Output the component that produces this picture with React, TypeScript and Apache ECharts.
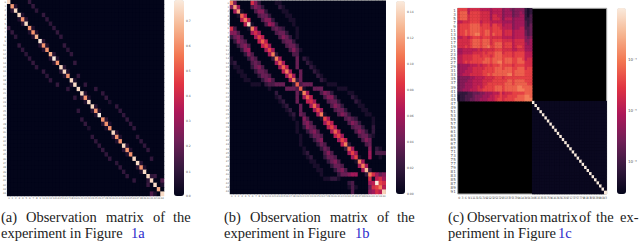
import React, { useEffect, useRef } from "react";
import * as echarts from "echarts";

const SIZE_AB = 45;
const BLOCK_C = 30;
const SIZE_C = 60;
const ROCKET = ["#03051a", "#35193e", "#701f57", "#ad1759", "#e13342", "#f37651", "#f6b48f", "#faebdd"];

const aDiagonal = [
  0.95, 0.8, 0.95, 0.95, 0.78, 0.96, 0.78, 0.78, 0.86, 0.98, 0.78, 0.78, 0.84, 1, 0.78,
  0.95, 0.95, 0.78, 0.95, 0.96, 0.95, 0.95, 0.78, 0.96, 0.95, 0.78, 1, 0.78, 0.78, 0.78,
  0.95, 0.78, 0.78, 0.95, 0.78, 0.78, 0.95, 0.96, 0.78, 0.96, 0.95, 0.95, 0.96, 0.84, 0.96,
];
// [row, column, value], upper triangle; the picture is symmetric
const aBands: number[][] = [
  [0, 6, 0.14], [1, 7, 0.14], [2, 8, 0.12], [3, 10, 0.14], [4, 11, 0.13], [5, 12, 0.12], [6, 13, 0.13], [7, 14, 0.14],
  [8, 15, 0.13], [10, 16, 0.14], [11, 17, 0.12], [12, 18, 0.13], [14, 19, 0.14], [17, 20, 0.13], [19, 22, 0.13],
  [20, 25, 0.13], [21, 27, 0.13], [22, 28, 0.14], [23, 29, 0.08], [24, 31, 0.13], [25, 32, 0.13], [26, 33, 0.13], [27, 34, 0.14],
  [28, 35, 0.13], [29, 36, 0.13], [31, 37, 0.12], [32, 38, 0.13], [33, 39, 0.13], [34, 40, 0.13], [36, 41, 0.13],
  [40, 42, 0.15], [41, 44, 0.2], [42, 44, 0.08], [1, 2, 0.1], [3, 4, 0.08], [4, 5, 0.1], [6, 7, 0.08], [7, 8, 0.08],
  [9, 10, 0.1], [10, 11, 0.08], [12, 13, 0.1], [13, 14, 0.08], [15, 16, 0.1], [16, 17, 0.08], [18, 19, 0.07], [21, 22, 0.1],
  [22, 23, 0.08], [24, 25, 0.1], [25, 26, 0.08], [27, 28, 0.1], [28, 29, 0.08], [30, 31, 0.1], [31, 32, 0.08], [33, 34, 0.1],
  [34, 35, 0.08], [37, 38, 0.1], [38, 39, 0.08], [40, 41, 0.12],
];

// [row, start column, levels 0-f along the row], upper triangle; the picture is symmetric
const bRuns: [number, number, string][] = [
  [0, 0, "b5"], [1, 1, "c6"], [2, 2, "c1"], [3, 3, "a7"], [4, 4, "b7"], [5, 5, "e1"],
  [6, 6, "b6"], [7, 7, "86"], [8, 8, "97"], [9, 9, "a7"], [10, 10, "96"], [11, 11, "96"], [12, 12, "b2"],
  [13, 13, "b6"], [14, 14, "a6"], [15, 15, "a7"], [16, 16, "b6"], [17, 17, "a6"], [18, 18, "b2"], [19, 19, "a3"], [20, 20, "a1"],
  [21, 21, "b6"], [22, 22, "a7"], [23, 23, "86"], [24, 24, "a6"], [25, 25, "96"], [26, 26, "b1"],
  [27, 27, "96"], [28, 28, "97"], [29, 29, "96"], [30, 30, "a7"], [31, 31, "96"], [32, 32, "97"], [33, 33, "b2"],
  [34, 34, "a6"], [35, 35, "96"], [36, 36, "91"], [37, 37, "b6"], [38, 38, "b6"], [39, 39, "d2"],
  [40, 40, "b8645"], [41, 41, "1786"], [42, 42, "f98"], [43, 43, "b7"], [44, 44, "e"],
  [0, 6, "852"], [1, 6, "3542"], [2, 7, "3552"], [3, 8, "3442"], [4, 9, "3552"], [5, 10, "3652"],
  [6, 12, "3432"], [7, 13, "3442"], [8, 14, "3542"], [9, 15, "3442"], [10, 16, "3442"], [11, 17, "353"], [12, 18, "33"],
  [0, 13, "11"], [1, 14, "21"], [2, 15, "11"], [3, 16, "11"], [4, 17, "11"], [5, 18, "1"], [6, 19, "1"], [7, 19, "1"], [8, 19, "1"],
  [11, 20, "1"],
  [13, 19, "4"], [14, 19, "4"], [15, 19, "4"], [16, 20, "4"], [17, 20, "4"], [18, 20, "4"],
  [19, 21, "444"], [20, 24, "444"], [19, 28, "111"], [20, 31, "111"],
  [13, 21, "21"], [14, 22, "21"], [15, 23, "21"], [16, 24, "21"], [17, 25, "21"], [18, 26, "21"],
  [21, 26, "3542"], [22, 27, "3552"], [23, 28, "3442"], [24, 29, "3542"], [25, 30, "3442"], [26, 31, "3542"],
  [21, 34, "11"], [22, 35, "21"], [23, 36, "21"], [24, 37, "11"], [25, 38, "11"], [26, 39, "11"],
  [27, 41, "1"], [28, 41, "1"], [29, 41, "2"], [30, 41, "2"], [31, 41, "1"],
  [27, 33, "3432"], [28, 34, "3542"], [29, 35, "3442"], [30, 36, "3542"], [31, 37, "3442"], [32, 38, "354"], [33, 39, "34"],
  [34, 40, "5"], [35, 40, "6"], [36, 40, "6"], [34, 42, "21"], [35, 42, "333"], [36, 43, "1"],
];

// levels 0-f, top-left block of panel c, one string per row
const cBlockRows = [
  "9999 78888 7777 67777 5665 45555 212",
  "9aaa 79999 8888 67777 5666 45565 212",
  "9aaa 89999 8888 68877 5666 45566 213",
  "9aaa 89999 8888 68887 5777 56666 223",
  "7788 89999 7888 77777 6666 56666 323",
  "8999 9aaaa 8999 79988 6777 56666 324",
  "8999 9aaaa 9999 89998 7777 56677 334",
  "899a 9aaaa 99aa 89999 7888 67777 434",
  "899a 9aabb 99aa 8a999 7888 67777 434",
  "7788 78999 8999 88888 7777 67777 545",
  "8888 89aaa 9aaa 89999 8888 78888 556",
  "8888 89aaa 9aaa 89aaa 8999 78888 656",
  "8889 89aaa 9aab 99aaa 8999 78998 666",
  "6677 77778 7888 88999 8888 77888 666",
  "6677 77888 8989 99aaa 8999 89999 777",
  "7788 88999 8999 89aaa 9999 89999 777",
  "7788 88999 99aa 9aaaa 9aaa 99aa9 788",
  "7789 89999 9aaa 9aabb 9aaa 99aaa 888",
  "5666 67778 7889 8999a 9999 89999 888",
  "5666 77888 8899 99aaa 9aaa 99aaa 899",
  "5667 77888 8999 99aaa aaaa 9aaaa 999",
  "5677 78888 899a 9aaaa aabb 9aaaa 999",
  "4555 56677 7788 88999 8999 99999 999",
  "4555 66777 7888 89999 99aa 9aaaa 999",
  "4556 66777 7889 99999 9aaa 9aaaa a99",
  "4556 66778 7899 99aaa 9aaa aabba aaa",
  "4566 67778 8999 99aaa 9aaa aabbb aaa",
  "2222 33444 5566 67779 7888 99999 aaa",
  "1223 33455 5666 77889 8899 99aaa bba",
  "1223 34455 6667 77899 8999 9aaaa bbb",
];
const cLowBlockValue = 0.02;
const cDiagonalValue = 1;

const abTickLabels = Array.from({ length: SIZE_AB }, (_, i) => String(i));
const cCells = Array.from({ length: SIZE_C }, (_, i) => String(i));
const cYLabels = [
  "1", "3", "5", "7", "9", "11", "13", "15", "17", "19", "21", "23", "25", "27", "29", "31", "33", "35", "37", "39", "41", "43", "45",
  "47", "49", "51", "53", "55", "57", "59", "61", "63", "65", "67", "69", "71", "73", "75", "77", "79", "81", "83", "85", "87", "89", "91",
];
const cXLabels = [
  "0", "3", "6", "9", "11", "13", "15", "17", "19", "21", "23", "25", "27", "29", "31", "33", "35", "37", "39", "41", "43", "45", "47",
  "49", "51", "53", "55", "57", "59", "61", "63", "65", "67", "69", "71", "73", "75", "77", "79", "81", "83", "85", "87", "89", "91", "93",
];
const aBarLabels = ["0.7", "0.6", "0.5", "0.4", "0.3", "0.2", "0.1", "0.0"];
const bBarLabels = ["0.14", "0.12", "0.10", "0.08", "0.06", "0.04", "0.02", "0.00"];
const cBarLabels = ["10⁻⁴", "10⁻⁵", "10⁻⁶"];

const captions: { text: string; x: number; y: number; link?: boolean }[] = [
  { text: "(a)", x: 1, y: 217 }, { text: "Observation", x: 26, y: 217 }, { text: "matrix", x: 106, y: 217 }, { text: "of", x: 153, y: 217 }, { text: "the", x: 173, y: 217 },
  { text: "experiment in Figure", x: 1, y: 233 }, { text: "1a", x: 131, y: 233, link: true },
  { text: "(b)", x: 224, y: 217 }, { text: "Observation", x: 250, y: 217 }, { text: "matrix", x: 330, y: 217 }, { text: "of", x: 377, y: 217 }, { text: "the", x: 397, y: 217 },
  { text: "experiment in Figure", x: 224, y: 233 }, { text: "1b", x: 355, y: 233, link: true },
  { text: "(c)", x: 448, y: 217 }, { text: "Observation", x: 467, y: 217 }, { text: "matrix", x: 540, y: 217 }, { text: "of", x: 579, y: 217 }, { text: "the", x: 596, y: 217 }, { text: "ex-", x: 620, y: 217 },
  { text: "periment in Figure", x: 448, y: 233 }, { text: "1c", x: 558, y: 233, link: true },
];

function level(ch: string) {
  return parseInt(ch, 16) / 15;
}

function matrixA() {
  const m = new Map<string, number>();
  aDiagonal.forEach((v, i) => m.set(`${i},${i}`, v));
  aBands.forEach(([r, c, v]) => {
    m.set(`${r},${c}`, v);
    m.set(`${c},${r}`, v);
  });
  return fill(m);
}

function matrixB() {
  const m = new Map<string, number>();
  bRuns.forEach(([r, c, s]) => {
    s.split("").forEach((ch, k) => {
      m.set(`${r},${c + k}`, level(ch));
      m.set(`${c + k},${r}`, level(ch));
    });
  });
  return fill(m);
}

function fill(m: Map<string, number>) {
  const out: number[][] = [];
  for (let r = 0; r < SIZE_AB; r++) for (let c = 0; c < SIZE_AB; c++) out.push([c, r, m.get(`${r},${c}`) ?? 0]);
  return out;
}

function matrixC() {
  const out: number[][] = [];
  cBlockRows.forEach((row, r) => {
    row.replace(/ /g, "").split("").forEach((ch, c) => out.push([c, r, level(ch)]));
  });
  for (let r = BLOCK_C; r < SIZE_C; r++) {
    for (let c = BLOCK_C; c < SIZE_C; c++) out.push([c, r, r === c ? cDiagonalValue : cLowBlockValue]);
  }
  return out;
}

const GRIDS = [
  { left: 6.3, top: 0, width: 157.7, height: 196 },
  { left: 230, top: 1, width: 155.7, height: 193 },
  { left: 457.7, top: 8.3, width: 149, height: 185.7 },
];
const BARS = [
  { left: 174, top: 0, w: 10, h: 196 },
  { left: 396, top: 1, w: 9, h: 193 },
  { left: 617, top: 8, w: 9, h: 186 },
];

function barTexts(labels: string[], x: number, ys: number[], size: number) {
  return labels.map((t, i) => ({
    type: "text",
    x,
    y: ys[i],
    style: { text: t, fontSize: size, fill: "#555", fontFamily: "DejaVu Sans", textVerticalAlign: "middle" },
  }));
}

export default function App() {
  const ref = useRef<HTMLDivElement>(null);
  useEffect(() => {
    const chart = echarts.init(ref.current!, undefined, { renderer: "svg" });
    const smallLabel = { fontSize: 2.5, color: "#666", margin: 1, interval: 0, fontFamily: "DejaVu Sans" };
    const option: any = {
      animation: false,
      backgroundColor: "#fff",
      grid: [
        { ...GRIDS[0], show: true, backgroundColor: ROCKET[0], borderWidth: 0 },
        { ...GRIDS[1], show: true, backgroundColor: ROCKET[0], borderWidth: 0 },
        { ...GRIDS[2], show: true, backgroundColor: "#000", borderWidth: 1, borderColor: "#aaa" },
      ],
      xAxis: [
        { type: "category", gridIndex: 0, data: abTickLabels, axisLine: { show: false }, axisTick: { show: false }, axisLabel: smallLabel },
        { type: "category", gridIndex: 1, data: abTickLabels, axisLine: { show: false }, axisTick: { show: false }, axisLabel: smallLabel },
        { type: "category", gridIndex: 2, data: cCells, axisLine: { show: false }, axisTick: { show: false }, axisLabel: { show: false } },
        { type: "category", gridIndex: 2, position: "bottom", data: cXLabels, axisLine: { show: false }, axisTick: { show: false }, axisLabel: { fontSize: 3.2, color: "#555", margin: 2, interval: 0, fontFamily: "DejaVu Sans" } },
      ],
      yAxis: [
        { type: "category", gridIndex: 0, inverse: true, data: abTickLabels, axisLine: { show: false }, axisTick: { show: false }, axisLabel: smallLabel },
        { type: "category", gridIndex: 1, inverse: true, data: abTickLabels, axisLine: { show: false }, axisTick: { show: false }, axisLabel: smallLabel },
        { type: "category", gridIndex: 2, inverse: true, data: cCells, axisLine: { show: false }, axisTick: { show: false }, axisLabel: { show: false } },
        { type: "category", gridIndex: 2, inverse: true, position: "left", data: cYLabels, axisLine: { show: false }, axisTick: { show: false }, axisLabel: { fontSize: 4, color: "#555", margin: 2, interval: 0, fontFamily: "DejaVu Sans" } },
      ],
      visualMap: BARS.map((b, i) => ({
        type: "continuous",
        seriesIndex: i,
        min: 0,
        max: 1,
        left: b.left,
        top: b.top,
        itemWidth: b.w,
        itemHeight: b.h,
        padding: 0,
        text: ["", ""],
        showLabel: false,
        calculable: false,
        hoverLink: false,
        inRange: { color: ROCKET },
        textStyle: { fontSize: 1 },
      })),
      series: [matrixA(), matrixB(), matrixC()].map((data, i) => ({
        type: "heatmap",
        xAxisIndex: i,
        yAxisIndex: i,
        data,
        silent: true,
        progressive: 0,
        itemStyle: { borderWidth: 0 },
      })),
      graphic: [
        { type: "line", shape: { x1: 230, y1: 0.5, x2: 386, y2: 0.5 }, style: { stroke: "#aaa", lineWidth: 1 } },
        ...barTexts(aBarLabels, 186, [21, 46, 71, 96, 121, 146, 172, 196], 3),
        ...barTexts(bBarLabels, 407, [12, 38, 64, 90, 116, 142, 168, 194], 3),
        ...barTexts(cBarLabels, 628, [59, 110, 161], 4),
        ...captions.map((c) => ({
          type: "text",
          x: c.x,
          y: c.y,
          style: {
            text: c.text,
            fontFamily: "Liberation Serif",
            fontSize: 14.5,
            fill: c.link ? "#2a2acc" : "#222",
            textVerticalAlign: "middle",
          },
        })),
      ],
    };
    chart.setOption(option);
    return () => chart.dispose();
  }, []);
  return <div ref={ref} style={{ position: "absolute", left: 0, top: 0, width: 640, height: 241 }} />;
}
